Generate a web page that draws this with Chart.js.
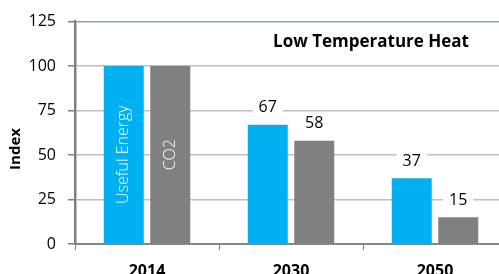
<!DOCTYPE html>
<html>
<head>
<meta charset="utf-8">
<script src="https://cdn.jsdelivr.net/npm/chart.js@4.4.0/dist/chart.umd.min.js"></script>
<style>
	html, body { margin: 0; padding: 0; background: #fff; overflow: hidden; }
	#wrap { width: 510px; height: 290px; }
</style>
</head>
<body>
<div id="wrap"><canvas id="chart"></canvas></div>
<script>
'use strict';

var YEARS = ['2014', '2030', '2050'];
var SERIES_NAMES = ['Useful Energy', 'CO2'];
var USEFUL_ENERGY = [100, 67, 37];
var CO2 = [100, 58, 15];
var Y_TICKS = [0, 25, 50, 75, 100, 125];
var CHART_TITLE = 'Low Temperature Heat';
var AXIS_TITLE = 'Index';

var FONT = '"Open Sans", "Liberation Sans", sans-serif';
var BLUE = '#00b0f0';
var GREY = '#808080';

// labels on and above the bars, the inner title and the y axis title
var annotate = {
	id: 'annotate',
	afterDatasetsDraw: function(chart) {
		var ctx = chart.ctx;
		ctx.save();

		chart.data.datasets.forEach(function(ds, di) {
			var meta = chart.getDatasetMeta(di);
			meta.data.forEach(function(bar, i) {
				if (i === 0) {
					// series name written inside the first bar
					ctx.save();
					ctx.translate(bar.x, (bar.y + bar.base) / 2);
					ctx.rotate(-Math.PI / 2);
					ctx.fillStyle = '#fff';
					ctx.font = '300 16px ' + FONT;
					ctx.textAlign = 'center';
					ctx.textBaseline = 'middle';
					ctx.fillText(ds.label, 0, 0);
					ctx.restore();
				} else {
					var txt = String(ds.data[i]);
					ctx.font = '16px ' + FONT;
					var w = ctx.measureText(txt).width + 12;
					var cy = bar.y - 17;
					ctx.fillStyle = '#fff';
					ctx.fillRect(bar.x - w / 2, cy - 10, w, 20);
					ctx.fillStyle = '#000';
					ctx.textAlign = 'center';
					ctx.textBaseline = 'middle';
					ctx.fillText(txt, bar.x, cy);
				}
			});
		});

		ctx.fillStyle = '#000';
		ctx.font = 'bold 17px ' + FONT;
		ctx.textAlign = 'center';
		ctx.textBaseline = 'middle';
		ctx.fillText(CHART_TITLE, 371, 42);

		ctx.save();
		ctx.translate(16, 149);
		ctx.rotate(-Math.PI / 2);
		ctx.font = 'bold 15px ' + FONT;
		ctx.fillText(AXIS_TITLE, 0, 0);
		ctx.restore();

		ctx.restore();
	}
};

new Chart(document.getElementById('chart'), {
	type: 'bar',
	data: {
		labels: YEARS,
		datasets: [{
			label: SERIES_NAMES[0],
			data: USEFUL_ENERGY,
			backgroundColor: BLUE
		}, {
			label: SERIES_NAMES[1],
			data: CO2,
			backgroundColor: GREY
		}]
	},
	options: {
		responsive: true,
		maintainAspectRatio: false,
		animation: false,
		devicePixelRatio: 1,
		datasets: {
			bar: { barPercentage: 0.86, categoryPercentage: 0.646 }
		},
		layout: { padding: { top: 20, right: 3, bottom: 0, left: 0 } },
		plugins: {
			legend: { display: false },
			tooltip: { enabled: false }
		},
		scales: {
			x: {
				grid: {
					drawOnChartArea: false,
					drawTicks: true,
					tickLength: 6,
					tickColor: GREY,
					lineWidth: 1
				},
				border: { color: '#868686', width: 2 },
				ticks: {
					color: '#000',
					padding: 12,
					font: { family: FONT, size: 16, weight: 'bold' }
				},
				afterFit: function(scale) { scale.height = 46; }
			},
			y: {
				min: 0,
				max: 125,
				afterBuildTicks: function(scale) {
					scale.ticks = Y_TICKS.map(function(v) { return { value: v }; });
				},
				grid: {
					color: function(c) { return c.tick && c.tick.value === 125 ? '#8a9fca' : '#bfbfbf'; },
					lineWidth: 1.5,
					tickLength: 7,
					tickColor: GREY
				},
				border: { color: GREY, width: 2.5 },
				ticks: {
					color: '#000',
					padding: 12,
					font: { family: FONT, size: 16 }
				},
				afterFit: function(scale) { scale.width = 75; }
			}
		}
	},
	plugins: [annotate]
});
</script>
</body>
</html>
